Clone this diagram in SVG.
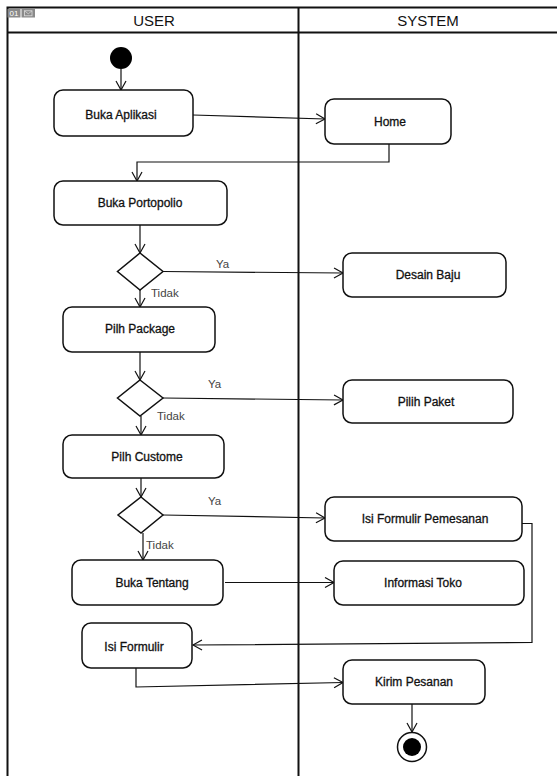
<svg xmlns="http://www.w3.org/2000/svg" width="557" height="776" viewBox="0 0 557 776">
<style>
  .frame{fill:none;stroke:#111;stroke-width:2}
  .node rect{fill:#fff;stroke:#111;stroke-width:1.5}
  .node text{font-family:"Liberation Sans",Arial,sans-serif;font-size:12px;fill:#111;stroke:#111;stroke-width:0.3;text-anchor:middle}
  .lane{font-family:"Liberation Sans",Arial,sans-serif;font-size:15px;fill:#111;text-anchor:middle}
  .lbl{font-family:"Liberation Sans",Arial,sans-serif;font-size:11.5px;fill:#444}
  .edge{fill:none;stroke:#111;stroke-width:1.2;marker-end:url(#arr)}
  .dia{fill:#fff;stroke:#111;stroke-width:1.5}
</style>
<defs>
  <marker id="arr" markerUnits="userSpaceOnUse" markerWidth="12" markerHeight="12" viewBox="0 0 12 12" refX="10" refY="6" orient="auto">
    <path d="M1,1 L10,6 L1,11" fill="none" stroke="#111" stroke-width="1.2"/>
  </marker>
</defs>
<rect width="557" height="776" fill="#fff"/>
<g id="frame">
  <path class="frame" d="M7.5,776 V7.5 H557 M7.5,32.5 H557 M298.5,7.5 V776"/>
  <text class="lane" x="154" y="26">USER</text>
  <text class="lane" x="428" y="26">SYSTEM</text>
</g>
<g id="badge">
  <rect x="7.5" y="9" width="13" height="8.5" fill="#8a8a8a"/>
  <text x="14" y="16.3" font-family="Liberation Sans, Arial, sans-serif" font-size="8" fill="#fff" text-anchor="middle">01</text>
  <rect x="21.5" y="9" width="13.5" height="8.5" fill="#8a8a8a"/>
  <rect x="24.5" y="10.8" width="7.5" height="5" fill="none" stroke="#ddd" stroke-width="0.8"/>
  <path d="M24.5,10.8 L28.25,13.8 L32,10.8" fill="none" stroke="#ddd" stroke-width="0.7"/>
</g>
<g id="connectors">
  <path class="edge" d="M121,69 V90"/>
  <path class="edge" d="M193,115 L325,119"/>
  <path class="edge" d="M389,144 V162 H137 V181"/>
  <path class="edge" d="M140,225 V253"/>
  <path class="edge" d="M163,271.5 L343,273"/>
  <path class="edge" d="M140,290 V307"/>
  <path class="edge" d="M140,352 V380"/>
  <path class="edge" d="M163,398 L343,400"/>
  <path class="edge" d="M141,416 V435"/>
  <path class="edge" d="M141,478 V497"/>
  <path class="edge" d="M163,515 L325,518"/>
  <path class="edge" d="M143,533 V560"/>
  <path class="edge" d="M225,582.5 L334,582.5"/>
  <path class="edge" d="M522,523.5 H532 V642.5 L193,645"/>
  <path class="edge" d="M136,668 V687 L343,682.5"/>
  <path class="edge" d="M412,704 V732"/>
  <text class="lbl" x="216" y="268">Ya</text>
  <text class="lbl" x="151" y="297">Tidak</text>
  <text class="lbl" x="208" y="388">Ya</text>
  <text class="lbl" x="157" y="420">Tidak</text>
  <text class="lbl" x="208" y="505">Ya</text>
  <text class="lbl" x="146" y="549">Tidak</text>
</g>
<g id="start"><circle cx="121" cy="58" r="11" fill="#000"/></g>
<g id="end">
  <circle cx="412" cy="747" r="14.5" fill="#fff" stroke="#111" stroke-width="1.5"/>
  <circle cx="412" cy="747" r="9" fill="#000"/>
</g>
<g id="buka-aplikasi" class="node"><rect x="54" y="90" width="139" height="46" rx="9"/><text x="121" y="119">Buka Aplikasi</text></g>
<g id="home" class="node"><rect x="325" y="99" width="126" height="45" rx="9"/><text x="390" y="126">Home</text></g>
<g id="buka-portopolio" class="node"><rect x="54" y="181" width="173" height="44" rx="9"/><text x="140" y="207">Buka Portopolio</text></g>
<g id="decision1"><path class="dia" d="M140,253 L163,271.5 L140,290 L117.5,271.5 Z"/></g>
<g id="desain-baju" class="node"><rect x="343" y="253" width="163" height="44" rx="9"/><text x="428" y="279">Desain Baju</text></g>
<g id="pilih-package" class="node"><rect x="63" y="307" width="152" height="45" rx="9"/><text x="140" y="333">Pilh Package</text></g>
<g id="decision2"><path class="dia" d="M140,380 L163,398 L140,416 L117.5,398 Z"/></g>
<g id="pilih-paket" class="node"><rect x="343" y="380" width="170" height="43" rx="9"/><text x="426" y="406">Pilih Paket</text></g>
<g id="pilih-custome" class="node"><rect x="63" y="435" width="161" height="43" rx="9"/><text x="147" y="461">Pilh Custome</text></g>
<g id="decision3"><path class="dia" d="M141,497 L163,515 L141,533 L118,515 Z"/></g>
<g id="isi-formulir-pemesanan" class="node"><rect x="325" y="497" width="197" height="44" rx="9"/><text x="425" y="523">Isi Formulir Pemesanan</text></g>
<g id="buka-tentang" class="node"><rect x="72" y="560" width="151" height="45" rx="9"/><text x="152" y="587">Buka Tentang</text></g>
<g id="informasi-toko" class="node"><rect x="334" y="561" width="190" height="44" rx="9"/><text x="423" y="587">Informasi Toko</text></g>
<g id="isi-formulir" class="node"><rect x="82" y="623" width="110" height="45" rx="9"/><text x="134" y="651">Isi Formulir</text></g>
<g id="kirim-pesanan" class="node"><rect x="343" y="660" width="142" height="44" rx="9"/><text x="414" y="686">Kirim Pesanan</text></g>
</svg>
